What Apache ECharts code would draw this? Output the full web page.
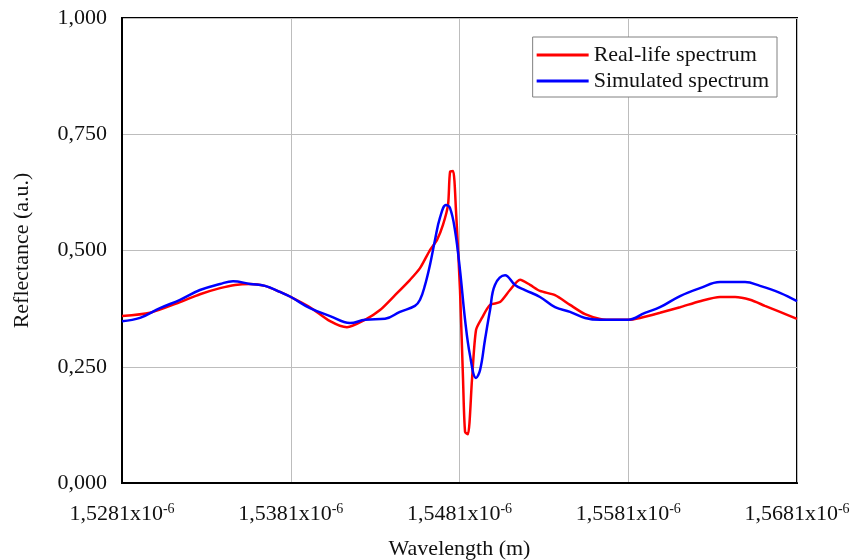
<!DOCTYPE html>
<html>
<head>
<meta charset="utf-8">
<script src="https://cdn.jsdelivr.net/npm/echarts@6/dist/echarts.min.js"></script>
<style>
html,body{margin:0;padding:0;background:#fff;}
#chart{width:855px;height:560px;}
</style>
</head>
<body>
<div id="chart"></div>
<script>
// Wavelengths in nm (axis shows them in metres as x10^-6)
const xStart = 1528.1;
const xTicks = ['1,5281', '1,5381', '1,5481', '1,5581', '1,5681'];
const yTicks = ['0,000', '0,250', '0,500', '0,750', '1,000'];
const seriesNames = ['Real-life spectrum', 'Simulated spectrum'];

const realWl = [1528.10, 1529.76, 1531.54, 1532.72, 1533.91, 1534.80, 1535.69, 1536.57, 1537.46, 1538.11,
  1539.24, 1540.43, 1541.43, 1542.50, 1543.39, 1544.28, 1545.17, 1545.76, 1546.35, 1546.77,
  1547.12, 1547.42, 1547.54, 1547.72, 1547.89, 1548.13, 1548.31, 1548.43, 1548.60, 1548.84,
  1549.08, 1549.43, 1549.91, 1550.50, 1551.09, 1551.69, 1552.28, 1552.87, 1553.76, 1554.65,
  1555.54, 1556.43, 1557.32, 1558.09, 1558.80, 1559.98, 1561.17, 1562.35, 1563.54, 1564.43,
  1565.32, 1566.20, 1567.09, 1568.10];
const realVal = [0.359, 0.366, 0.389, 0.406, 0.419, 0.426, 0.428, 0.424, 0.411, 0.400,
  0.378, 0.348, 0.335, 0.351, 0.372, 0.404, 0.437, 0.462, 0.501, 0.523,
  0.555, 0.598, 0.669, 0.671, 0.587, 0.415, 0.222, 0.110, 0.105, 0.222,
  0.329, 0.355, 0.383, 0.389, 0.415, 0.437, 0.426, 0.413, 0.404, 0.383,
  0.363, 0.353, 0.351, 0.351, 0.355, 0.366, 0.378, 0.391, 0.400, 0.400,
  0.394, 0.381, 0.368, 0.353];

const simWl = [1528.10, 1529.17, 1530.35, 1531.54, 1532.72, 1533.91, 1534.68, 1535.69, 1536.57, 1537.46,
  1538.11, 1539.24, 1540.43, 1541.61, 1542.50, 1543.69, 1544.57, 1545.46, 1545.76, 1546.06,
  1546.35, 1546.65, 1546.94, 1547.30, 1547.54, 1547.83, 1548.13, 1548.43, 1548.72, 1549.08,
  1549.32, 1549.61, 1549.91, 1550.20, 1550.80, 1551.39, 1551.98, 1552.87, 1553.76, 1554.65,
  1555.54, 1556.43, 1557.32, 1558.09, 1559.09, 1559.98, 1561.17, 1562.35, 1563.54, 1565.02,
  1565.91, 1567.09, 1568.10];
const simVal = [0.348, 0.355, 0.376, 0.394, 0.415, 0.428, 0.434, 0.428, 0.424, 0.411,
  0.400, 0.376, 0.359, 0.344, 0.351, 0.353, 0.368, 0.381, 0.394, 0.426,
  0.469, 0.523, 0.570, 0.598, 0.591, 0.544, 0.458, 0.351, 0.275, 0.226,
  0.243, 0.308, 0.372, 0.426, 0.447, 0.426, 0.415, 0.400, 0.378, 0.368,
  0.355, 0.351, 0.351, 0.351, 0.366, 0.378, 0.402, 0.419, 0.432, 0.432,
  0.424, 0.409, 0.391];

function pairs(wl, val) {
  return wl.map((w, i) => [+(w - xStart).toFixed(3), val[i]]);
}

const font = 'Liberation Serif';
const chart = echarts.init(document.getElementById('chart'), null, {renderer: 'canvas'});
chart.setOption({
  animation: false,
  backgroundColor: '#ffffff',
  grid: {
    left: 122, right: 58, top: 18, bottom: 77,
    show: true, borderColor: '#000', borderWidth: 2,
    containLabel: false, outerBoundsMode: 'none'
  },
  legend: {
    orient: 'vertical',
    right: 78, top: 37,
    backgroundColor: '#fff',
    borderColor: '#808080', borderWidth: 1,
    padding: [7, 8, 5, 4],
    icon: 'rect',
    itemWidth: 52, itemHeight: 3, itemGap: 4,
    textStyle: {fontFamily: font, fontSize: 22, color: '#111'},
    data: seriesNames
  },
  xAxis: {
    type: 'value',
    min: 0, max: 40, interval: 10,
    name: 'Wavelength (m)',
    nameLocation: 'middle', nameGap: 55,
    nameTextStyle: {fontFamily: font, fontSize: 22, color: '#111'},
    axisLine: {show: true, lineStyle: {color: '#000', width: 2}},
    axisTick: {show: false},
    splitLine: {show: true, lineStyle: {color: '#bdbdbd', width: 1}},
    axisLabel: {
      margin: 19,
      formatter: function (v) {
        const i = Math.round(v / 10);
        return '{a|' + xTicks[i] + 'x10}{b|-6}';
      },
      rich: {
        a: {fontFamily: font, fontSize: 22, color: '#111', lineHeight: 24},
        b: {fontFamily: font, fontSize: 14, color: '#111', verticalAlign: 'top', lineHeight: 24, padding: [0, 0, 9, 0]}
      }
    }
  },
  yAxis: {
    type: 'value',
    min: 0, max: 1, interval: 0.25,
    name: 'Reflectance (a.u.)',
    nameLocation: 'middle', nameGap: 89,
    nameTextStyle: {fontFamily: font, fontSize: 22, color: '#111'},
    axisLine: {show: true, lineStyle: {color: '#000', width: 2}},
    axisTick: {show: false},
    splitLine: {show: true, lineStyle: {color: '#bdbdbd', width: 1}},
    axisLabel: {
      margin: 15,
      fontFamily: font, fontSize: 22, color: '#111',
      formatter: function (v) { return yTicks[Math.round(v / 0.25)]; }
    }
  },
  series: [
    {
      name: seriesNames[0], type: 'line', symbol: 'none',
      smooth: 0.25,
      lineStyle: {color: '#ff0000', width: 2.5},
      itemStyle: {color: '#ff0000'},
      data: pairs(realWl, realVal), z: 3
    },
    {
      name: seriesNames[1], type: 'line', symbol: 'none',
      smooth: 0.4,
      lineStyle: {color: '#0000ff', width: 2.5},
      itemStyle: {color: '#0000ff'},
      data: pairs(simWl, simVal), z: 4
    }
  ]
});
</script>
</body>
</html>
